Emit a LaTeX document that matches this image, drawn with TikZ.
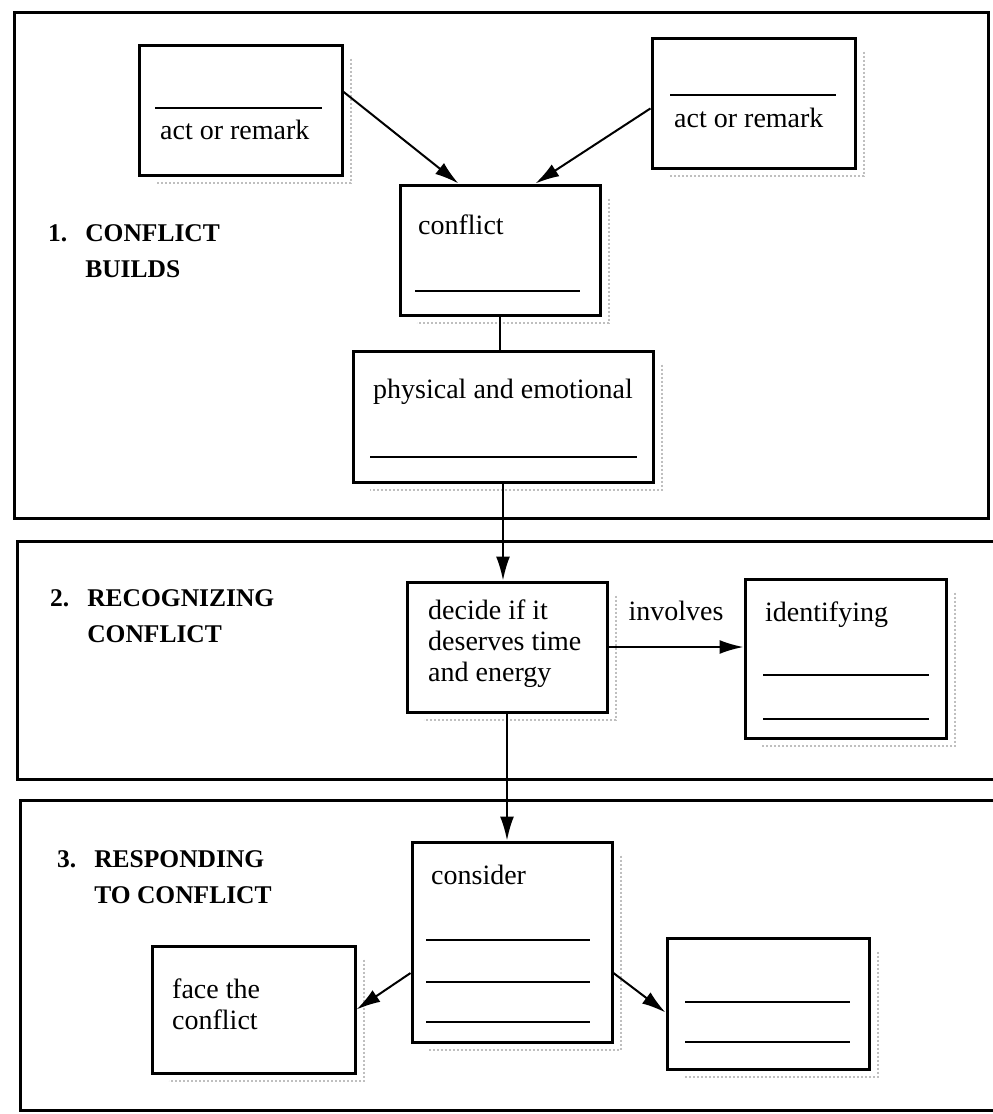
\documentclass[tikz,border=0pt]{standalone}
\usepackage{fontspec}
\setmainfont{Liberation Serif}
\usetikzlibrary{arrows.meta,positioning,calc}

\tikzset{
  box/.style={draw, line width=3pt, inner sep=0pt},
  panel/.style={line width=3pt},
  blank/.style={line width=2.2pt},
  link/.style={line width=2pt},
  arr/.style={line width=2pt, -{Latex[length=24pt,width=14pt]}},
  dotshade/.style={gray!50, dotted, line width=2pt},
  txt/.style={anchor=west, inner sep=0pt, align=left, font=\fontsize{28}{31}\selectfont},
  midlbl/.style={inner sep=0pt, font=\fontsize{28}{31}\selectfont},
  lbl/.style={anchor=west, inner sep=0pt, font=\fontsize{25.5}{36}\selectfont\bfseries},
}
\newcommand{\shadebox}[1]{\draw[dotshade] ($(#1.north east)+(7,15)$) |- ($(#1.south west)+(18,6)$);}

\begin{document}
\begin{tikzpicture}[x=1pt,y=-1pt]
  \useasboundingbox (0,0) rectangle (993,1114);

  % the three panels
  \draw[panel] (14,12) rectangle (988,518);
  \draw[panel] (1000,541) -| (17,779) -- (1000,779);
  \draw[panel] (1000,800) -| (20,1110) -- (1000,1110);

  \node[lbl] (head1) at (48,252) {\begin{tabular}{@{}l@{\hspace{18pt}}l@{}}1. & CONFLICT\\ & BUILDS\end{tabular}};
  \node[lbl] (head2) at (50,617) {\begin{tabular}{@{}l@{\hspace{18pt}}l@{}}2. & RECOGNIZING\\ & CONFLICT\end{tabular}};
  \node[lbl] (head3) at (57,878) {\begin{tabular}{@{}l@{\hspace{18pt}}l@{}}3. & RESPONDING\\ & TO CONFLICT\end{tabular}};

  % 1. conflict builds
  \node[box, minimum width=203pt, minimum height=130pt] (act1) at (240.5,110) {};
  \node[box, minimum width=203pt, minimum height=130pt] (act2) at (753.5,103) {};
  \node[box, minimum width=200pt, minimum height=130pt] (conf) at (500,250) {};
  \node[box, minimum width=300pt, minimum height=131pt] (phys) at (503,416.5) {};
  \shadebox{act1} \shadebox{act2} \shadebox{conf} \shadebox{phys}

  \draw[blank] (155,108) -- (322,108);
  \node[txt] (act1txt) at (160,130) {act or remark};
  \draw[blank] (670,95) -- (836,95);
  \node[txt] (act2txt) at (674,118) {act or remark};
  \node[txt] (conftxt) at (418,225) {conflict};
  \draw[blank] (415,291) -- (580,291);
  \node[txt] (phystxt) at (373,392) {physical and emotional};
  \draw[blank] (370,457) -- (637,457);

  \draw[arr] (act1.10) -- (conf.122);
  \draw[arr] (act2.183) -- (conf.62);
  \draw[link] (conf.south) -- (conf.south |- phys.north);

  % 2. recognizing conflict
  \node[box, minimum width=200pt, minimum height=130pt] (dec) at (507,647) {};
  \node[box, minimum width=201pt, minimum height=159pt] (ident) at (845.5,658.5) {};
  \shadebox{dec} \shadebox{ident}

  \node[txt] (dectxt) at (428,644) {decide if it\\deserves time\\and energy};
  \node[txt] (identtxt) at (765,615) {identifying};
  \draw[blank] (763,675) -- (929,675);
  \draw[blank] (763,719) -- (929,719);

  \draw[arr] (phys.south) -- (phys.south |- dec.north);
  \draw[arr] (dec.east) -- node[midlbl, above=25pt] (invlbl) {involves} (dec.east -| ident.west);

  % 3. responding to conflict
  \node[box, minimum width=200pt, minimum height=200pt] (cons) at (512,942) {};
  \node[box, minimum width=203pt, minimum height=127pt] (face) at (253.5,1009.5) {};
  \node[box, minimum width=202pt, minimum height=131pt] (other) at (768,1003.5) {};
  \shadebox{cons} \shadebox{face} \shadebox{other}

  \node[txt] (constxt) at (431,875) {consider};
  \draw[blank] (426,940) -- (590,940);
  \draw[blank] (426,982) -- (590,982);
  \draw[blank] (426,1022) -- (590,1022);
  \node[txt] (facetxt) at (172,1004) {face the\\conflict};
  \draw[blank] (685,1002) -- (850,1002);
  \draw[blank] (685,1042) -- (850,1042);

  \draw[arr] (dec.south) -- (dec.south |- cons.north);
  \draw[arr] (cons.197) -- (face.east);
  \draw[arr] (cons.343) -- (other.185);
\end{tikzpicture}
\end{document}
